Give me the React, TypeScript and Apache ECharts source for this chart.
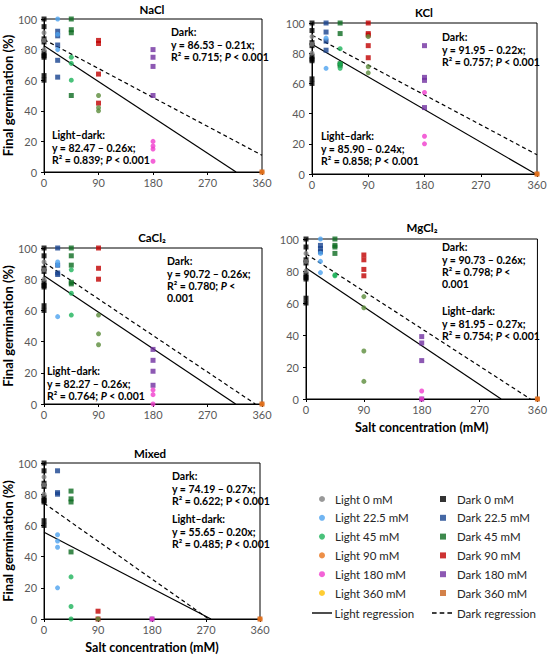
import React, { useEffect, useRef } from 'react';
import * as echarts from 'echarts';

// ---------- data ----------
const concentrations = [0, 22.5, 45, 90, 180, 360];

const lightNames = ['Light 0 mM', 'Light 22.5 mM', 'Light 45 mM', 'Light 90 mM', 'Light 180 mM', 'Light 360 mM'];
const darkNames = ['Dark 0 mM', 'Dark 22.5 mM', 'Dark 45 mM', 'Dark 90 mM', 'Dark 180 mM', 'Dark 360 mM'];
const lightLegendColors = ['#7f7f7f', '#4da3ef', '#1db35a', '#e8731a', '#f03ccd', '#ffc000'];
const lightPointColors = ['#7f7f7f', '#4da3ef', '#1db35a', '#5b8c3b', '#f03ccd', '#e8731a'];
const darkColors = ['#000000', '#17428f', '#0d6b20', '#c00000', '#7030a0', '#c8621c'];

const controlLight = [91, 86, 80];
const controlDark = [100, 95, 87, 85, 78, 76, 75, 63, 60];

const naclLight = [controlLight, [100, 90, 80], [75, 71, 60], [50, 42, 40], [20, 17, 15, 7], [0]];
const naclDark = [controlDark, [92, 89, 83, 73, 62], [100, 93, 91, 50], [86, 84, 64, 45], [80, 75, 69, 50], [0]];

const kclLight = [controlLight, [90, 70], [83, 73, 70], [91, 71, 67], [54, 25, 20], [0]];
const kclDark = [controlDark, [100, 94, 88, 82], [100, 93, 73, 72], [100, 93, 92, 85, 77], [85, 64, 62, 44], [0]];

const cacl2Light = [controlLight, [91, 89, 56], [86, 71, 57], [57, 45, 38], [9, 6, 0], [0]];
const cacl2Dark = [controlDark, [100, 89, 84, 83], [100, 95, 89, 78, 77], [100, 87, 80], [35, 28, 21, 12], [0]];

const mgcl2Light = [controlLight, [100, 91, 86, 79], [77.5, 77], [64, 57, 30, 11], [5, 0], [0]];
const mgcl2Dark = [controlDark, [96, 94, 92], [100, 96, 95, 91], [90, 87, 81, 77], [39, 35, 24, 0], [0]];

const mixedLight = [controlLight, [54, 50, 46, 20], [27, 8, 0], [0], [0], [0]];
const mixedDark = [controlDark, [95, 81, 80], [82, 77, 75, 43], [5, 0], [0], [0]];

// regression [intercept, slope]
const naclReg = { light: [82.47, -0.26], dark: [86.53, -0.21] };
const kclReg = { light: [85.9, -0.24], dark: [91.95, -0.22] };
const cacl2Reg = { light: [82.27, -0.26], dark: [90.72, -0.26] };
const mgcl2Reg = { light: [81.95, -0.27], dark: [90.73, -0.26] };
const mixedReg = { light: [55.65, -0.2], dark: [74.19, -0.27] };

const panelTitles = ['NaCl', 'KCl', 'CaCl₂', 'MgCl₂', 'Mixed'];

const darkTexts = [
  '{b|Dark:}\n{b|y = 86.53 – 0.21x;}\n{b|R² = 0.715; }{i|P}{b| < 0.001}',
  '{b|Dark:}\n{b|y = 91.95 – 0.22x;}\n{b|R² = 0.757; }{i|P}{b| < 0.001}',
  '{b|Dark:}\n{b|y = 90.72 – 0.26x;}\n{b|R² = 0.780; }{i|P}{b| <}\n{b|0.001}',
  '{b|Dark:}\n{b|y = 90.73 – 0.26x;}\n{b|R² = 0.798; }{i|P}{b| <}\n{b|0.001}',
  '{b|Dark:}\n{b|y = 74.19 – 0.27x;}\n{b|R² = 0.622; P < 0.001}',
];
const lightTexts = [
  '{b|Light–dark:}\n{b|y = 82.47 – 0.26x;}\n{b|R² = 0.839; }{i|P}{b| < 0.001}',
  '{b|Light–dark:}\n{b|y = 85.90 – 0.24x;}\n{b|R² = 0.858; }{i|P}{b| < 0.001}',
  '{b|Light–dark:}\n{b|y = 82.27 – 0.26x;}\n{b|R² = 0.764; }{i|P}{b| < 0.001}',
  '{b|Light–dark:}\n{b|y = 81.95 – 0.27x;}\n{b|R² = 0.754; }{i|P}{b| < 0.001}',
  '{b|Light–dark:}\n{b|y = 55.65 – 0.20x;}\n{b|R² = 0.485; }{i|P}{b| < 0.001}',
];

// ---------- layout ----------
const FONT = 'Lato, "Open Sans", sans-serif';
const grids = [
  { left: 43, top: 19, width: 219, height: 153 },
  { left: 312, top: 23, width: 225, height: 151 },
  { left: 41, top: 248, width: 221, height: 156 },
  { left: 306, top: 239, width: 232, height: 160 },
  { left: 39, top: 463, width: 221, height: 156 },
];
const titlePos = [[152, 9], [424, 12], [152, 237], [422, 227], [150, 453]];
const darkTextPos = [[171, 26], [442, 31], [167, 255], [442, 241], [172, 470]];
const lightTextPos = [[52, 129], [321, 130], [47, 365], [442, 305], [172, 513]];
const showYName = [true, false, true, false, true];
const showXName = [false, false, false, true, true];

const panelLight = [naclLight, kclLight, cacl2Light, mgcl2Light, mixedLight];
const panelDark = [naclDark, kclDark, cacl2Dark, mgcl2Dark, mixedDark];
const panelReg = [naclReg, kclReg, cacl2Reg, mgcl2Reg, mixedReg];

function regLine(coef: number[]) {
  const [a, b] = coef;
  const xEnd = Math.min(360, -a / b);
  return [[0, a], [xEnd, a + b * xEnd]];
}

const SOLID_ICON = 'path://M0,0h20v1.4h-20z';
const DASH_ICON = 'path://M0,0h4.6v1.4h-4.6z M7.7,0h4.6v1.4h-4.6z M15.4,0h4.6v1.4h-4.6z';

function buildOption() {
  const series: any[] = [];
  const xAxis: any[] = [];
  const yAxis: any[] = [];
  const graphic: any[] = [];

  grids.forEach((g, p) => {
    xAxis.push({
      gridIndex: p,
      type: 'value',
      min: 0,
      max: 360,
      interval: 90,
      name: showXName[p] ? 'Salt concentration (mM)' : '',
      nameLocation: 'middle',
      nameGap: 22,
      nameTextStyle: { fontFamily: FONT, fontSize: 12.5, fontWeight: 'bold', color: '#000' },
      axisLine: { show: true, lineStyle: { color: '#000', width: 1 } },
      axisTick: { show: true, inside: false, length: 3, lineStyle: { color: '#000' } },
      axisLabel: { fontFamily: FONT, fontSize: 11, color: '#595959', margin: 5 },
      splitLine: { show: false },
    });
    yAxis.push({
      gridIndex: p,
      type: 'value',
      min: 0,
      max: 100,
      interval: 20,
      name: showYName[p] ? 'Final germination (%)' : '',
      nameLocation: 'middle',
      nameGap: p === 0 ? 22 : 20,
      nameTextStyle: { fontFamily: FONT, fontSize: 13, fontWeight: 'bold', color: '#000' },
      axisLine: { show: true, lineStyle: { color: '#000', width: 1 } },
      axisTick: { show: true, inside: false, length: 3, lineStyle: { color: '#000' } },
      axisLabel: { fontFamily: FONT, fontSize: 11, color: '#595959', margin: 7 },
      splitLine: { show: false },
    });

    series.push({
      type: 'line',
      name: 'Light regression',
      xAxisIndex: p,
      yAxisIndex: p,
      data: regLine(panelReg[p].light),
      symbol: 'none',
      lineStyle: { color: '#000', width: 1.2, type: 'solid' },
      itemStyle: { color: '#000' },
      z: 3,
    });
    series.push({
      type: 'line',
      name: 'Dark regression',
      xAxisIndex: p,
      yAxisIndex: p,
      data: regLine(panelReg[p].dark),
      symbol: 'none',
      lineStyle: { color: '#000', width: 1.2, type: [4, 3] },
      itemStyle: { color: '#000' },
      z: 3,
    });

    concentrations.forEach((c, i) => {
      series.push({
        type: 'scatter',
        name: darkNames[i],
        xAxisIndex: p,
        yAxisIndex: p,
        symbol: 'rect',
        symbolSize: 5,
        itemStyle: { color: darkColors[i] },
        data: panelDark[p][i].map((v) => [c, v]),
        z: 4,
      });
    });
    concentrations.forEach((c, i) => {
      series.push({
        type: 'scatter',
        name: lightNames[i],
        xAxisIndex: p,
        yAxisIndex: p,
        symbol: 'circle',
        symbolSize: 5,
        itemStyle: { color: lightPointColors[i] },
        data: panelLight[p][i].map((v) => [c, v]),
        z: 5,
      });
    });

    graphic.push({
      type: 'text',
      x: titlePos[p][0],
      y: titlePos[p][1],
      style: {
        text: panelTitles[p],
        fontFamily: FONT,
        fontSize: 11.5,
        fontWeight: 'bold',
        fill: '#000',
        align: 'center',
        verticalAlign: 'middle',
      },
    });
    const rich = {
      b: { fontFamily: FONT, fontSize: 10.5, fontWeight: 'bold', fill: '#000', color: '#000', lineHeight: 12.4 },
      i: { fontFamily: FONT, fontSize: 10.5, fontWeight: 'bold', fontStyle: 'italic', fill: '#000', color: '#000', lineHeight: 12.4 },
    };
    graphic.push({
      type: 'text',
      x: darkTextPos[p][0],
      y: darkTextPos[p][1],
      style: { text: darkTexts[p], rich, fontFamily: FONT, fontSize: 10.5, fontWeight: 'bold', fill: '#000', align: 'left', verticalAlign: 'top' },
      z: 10,
    });
    graphic.push({
      type: 'text',
      x: lightTextPos[p][0],
      y: lightTextPos[p][1],
      style: { text: lightTexts[p], rich, fontFamily: FONT, fontSize: 10.5, fontWeight: 'bold', fill: '#000', align: 'left', verticalAlign: 'top' },
      z: 10,
    });
  });

  const legendText = { fontFamily: FONT, fontSize: 11.5, color: '#262626', lineHeight: 14 };
  const legend = [
    {
      orient: 'vertical',
      left: 314,
      top: 487,
      itemWidth: 6,
      itemHeight: 6,
      itemGap: 4.8,
      selectedMode: false,
      textStyle: { ...legendText, padding: [0, 0, 0, 5] },
      data: lightNames.map((n, i) => ({ name: n, icon: 'circle', itemStyle: { color: lightLegendColors[i] } })),
    },
    {
      orient: 'vertical',
      left: 435,
      top: 487,
      itemWidth: 6,
      itemHeight: 6,
      itemGap: 4.8,
      selectedMode: false,
      textStyle: { ...legendText, padding: [0, 0, 0, 6] },
      data: darkNames.map((n, i) => ({ name: n, icon: 'rect', itemStyle: { color: darkColors[i] } })),
    },
    {
      orient: 'vertical',
      left: 307,
      top: 601,
      itemWidth: 21,
      itemHeight: 1.4,
      selectedMode: false,
      textStyle: { ...legendText, padding: [0, 0, 0, -3] },
      data: [{ name: 'Light regression', icon: SOLID_ICON, itemStyle: { color: '#000' } }],
    },
    {
      orient: 'vertical',
      left: 427,
      top: 601,
      itemWidth: 20,
      itemHeight: 1.4,
      selectedMode: false,
      textStyle: { ...legendText, padding: [0, 0, 0, 0] },
      data: [{ name: 'Dark regression', icon: DASH_ICON, itemStyle: { color: '#000' } }],
    },
  ];

  return {
    animation: false,
    backgroundColor: '#fff',
    grid: grids.map((g) => ({ ...g, show: true, borderColor: '#000', borderWidth: 1, backgroundColor: 'transparent', containLabel: false })),
    xAxis,
    yAxis,
    legend,
    series,
    graphic,
  };
}

export default function App() {
  const ref = useRef<HTMLDivElement>(null);
  useEffect(() => {
    if (!ref.current) return;
    const chart = echarts.init(ref.current, null, { renderer: 'svg' });
    chart.setOption(buildOption() as any);
    return () => chart.dispose();
  }, []);
  return <div ref={ref} style={{ position: 'fixed', left: 0, top: 0, width: 550, height: 657, background: '#fff' }} />;
}
